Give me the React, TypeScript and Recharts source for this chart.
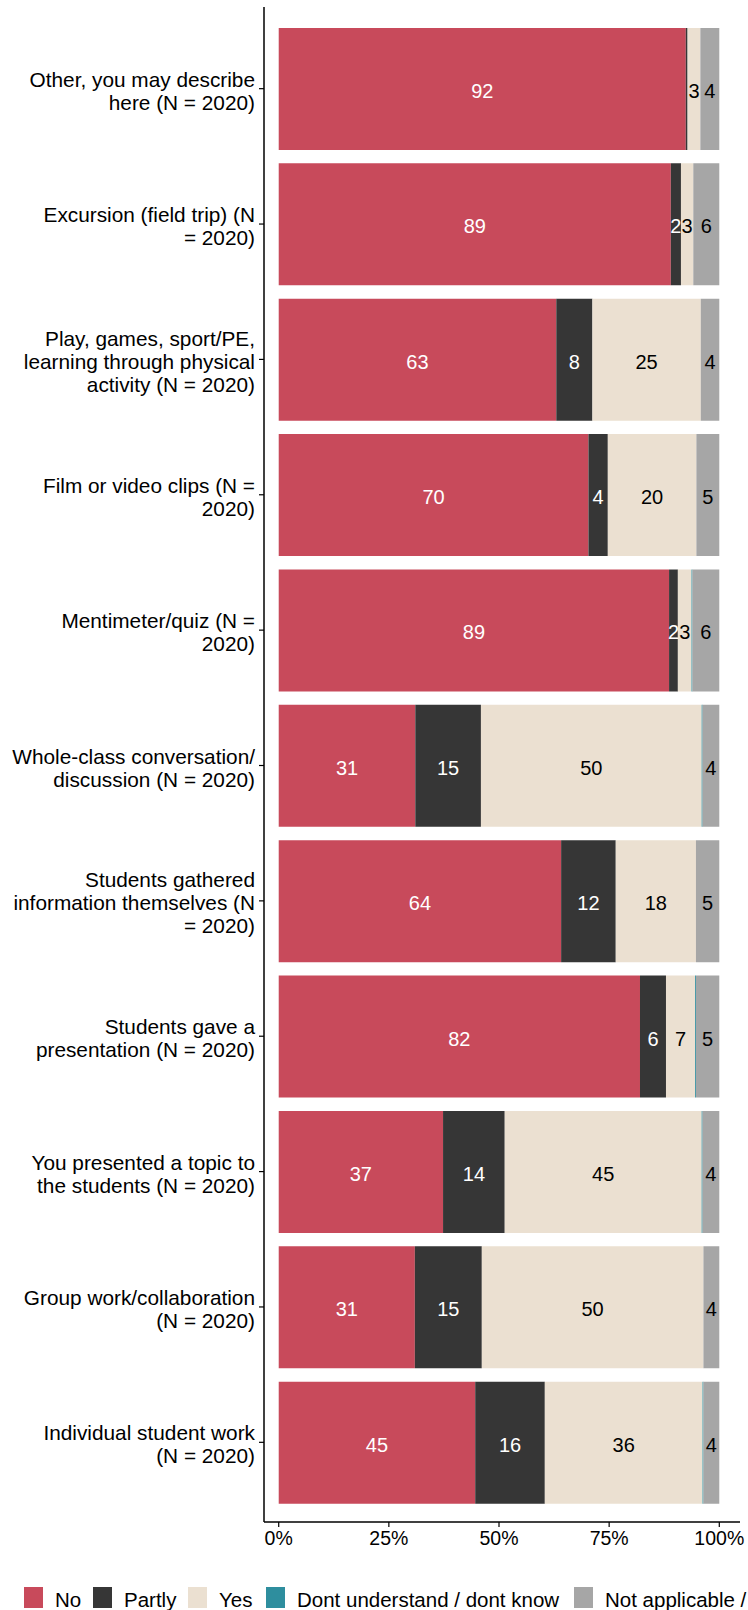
import React from 'react'
import { BarChart, Bar, XAxis, YAxis, LabelList } from 'recharts'

const categories = [
  'Other, you may describe\nhere (N = 2020)',
  'Excursion (field trip) (N\n= 2020)',
  'Play, games, sport/PE,\nlearning through physical\nactivity (N = 2020)',
  'Film or video clips (N =\n2020)',
  'Mentimeter/quiz (N =\n2020)',
  'Whole-class conversation/\ndiscussion (N = 2020)',
  'Students gathered\ninformation themselves (N\n= 2020)',
  'Students gave a\npresentation (N = 2020)',
  'You presented a topic to\nthe students (N = 2020)',
  'Group work/collaboration\n(N = 2020)',
  'Individual student work\n(N = 2020)',
]

const noValues = [92.4, 89.0, 63.0, 70.3, 88.6, 31.0, 64.1, 82.0, 37.3, 30.9, 44.6]
const partlyValues = [0.4, 2.3, 8.2, 4.4, 2.0, 14.9, 12.4, 5.9, 14.0, 15.2, 15.8]
const yesValues = [2.9, 2.8, 24.6, 20.1, 3.1, 50.1, 18.2, 6.6, 44.7, 50.3, 35.8]
const dkValues = [0, 0, 0, 0, 0.2, 0.2, 0, 0.2, 0.2, 0, 0.2]
const naValues = [4.3, 5.9, 4.2, 5.2, 6.1, 3.8, 5.3, 5.3, 3.8, 3.6, 3.6]

const xTicks = [0, 25, 50, 75, 100]

const SERIES = [
  { key: 'no', label: 'No', color: '#C84A5B', text: '#ffffff', legendX: 24 },
  { key: 'partly', label: 'Partly', color: '#363636', text: '#ffffff', legendX: 93 },
  { key: 'yes', label: 'Yes', color: '#EBE0D1', text: '#000000', legendX: 188 },
  { key: 'dk', label: 'Dont understand / dont know', color: '#2E8E9E', text: '#000000', legendX: 266 },
  { key: 'na', label: 'Not applicable /', color: '#A6A6A6', text: '#000000', legendX: 574 },
]

const FONT = '"Liberation Sans", Arial, sans-serif'

const data = categories.map((name, i) => ({
  name,
  no: noValues[i],
  partly: partlyValues[i],
  yes: yesValues[i],
  dk: dkValues[i],
  na: naValues[i],
}))

function CategoryTick(props: any) {
  const { x, y, payload } = props
  const lines = String(payload.value).split('\n')
  const lh = 23
  return (
    <g>
      {lines.map((line, i) => (
        <text
          key={i}
          x={x}
          y={y + 2 + (i - (lines.length - 1) / 2) * lh}
          textAnchor="end"
          dominantBaseline="central"
          fontSize={20.8}
          fontFamily={FONT}
          fill="#000"
        >
          {line}
        </text>
      ))}
    </g>
  )
}

function makeLabel(color: string) {
  return (props: any) => {
    const { x, y, width, height, value } = props
    if (value == null || value < 1.5) return null
    return (
      <text
        x={x + width / 2}
        y={y + height / 2 + 2}
        textAnchor="middle"
        dominantBaseline="central"
        fontSize={20}
        fontFamily={FONT}
        fill={color}
      >
        {Math.round(value)}
      </text>
    )
  }
}

export default function App() {
  return (
    <div style={{ position: 'absolute', left: 0, top: 0, width: 748, height: 1610, background: '#fff', overflow: 'hidden' }}>
      <BarChart
        width={748}
        height={1610}
        data={data}
        layout="vertical"
        margin={{ top: 7, right: 8, left: 0, bottom: 58 }}
        barSize={122}
      >
        <XAxis
          type="number"
          domain={[-3.34, 104.7]}
          allowDataOverflow
          ticks={xTicks}
          tickFormatter={v => `${v}%`}
          height={30}
          tickSize={5}
          tickMargin={4}
          axisLine={{ stroke: '#000', strokeWidth: 1.5 }}
          tickLine={{ stroke: '#000', strokeWidth: 1.2 }}
          tick={{ fill: '#000', fontSize: 19.5, fontFamily: FONT }}
        />
        <YAxis
          type="category"
          dataKey="name"
          width={264}
          padding={{ top: 14, bottom: 12 }}
          tickSize={5}
          tickMargin={4}
          axisLine={{ stroke: '#000', strokeWidth: 1.5 }}
          tickLine={{ stroke: '#000', strokeWidth: 1.2 }}
          tick={<CategoryTick />}
          interval={0}
        />
        {SERIES.map(s => (
          <Bar key={s.key} dataKey={s.key} stackId="a" fill={s.color} isAnimationActive={false}>
            <LabelList dataKey={s.key} content={makeLabel(s.text)} />
          </Bar>
        ))}
      </BarChart>

      {/* Legend */}
      {SERIES.map(s => (
        <div
          key={s.key}
          style={{
            position: 'absolute',
            left: s.legendX,
            top: 1587,
            display: 'flex',
            alignItems: 'center',
            fontFamily: FONT,
            fontSize: 20.5,
            whiteSpace: 'nowrap',
          }}
        >
          <span style={{ display: 'inline-block', width: 19, height: 21, background: s.color }} />
          <span style={{ marginLeft: 12, lineHeight: '21px', color: '#000', position: 'relative', top: 2 }}>{s.label}</span>
        </div>
      ))}
    </div>
  )
}
